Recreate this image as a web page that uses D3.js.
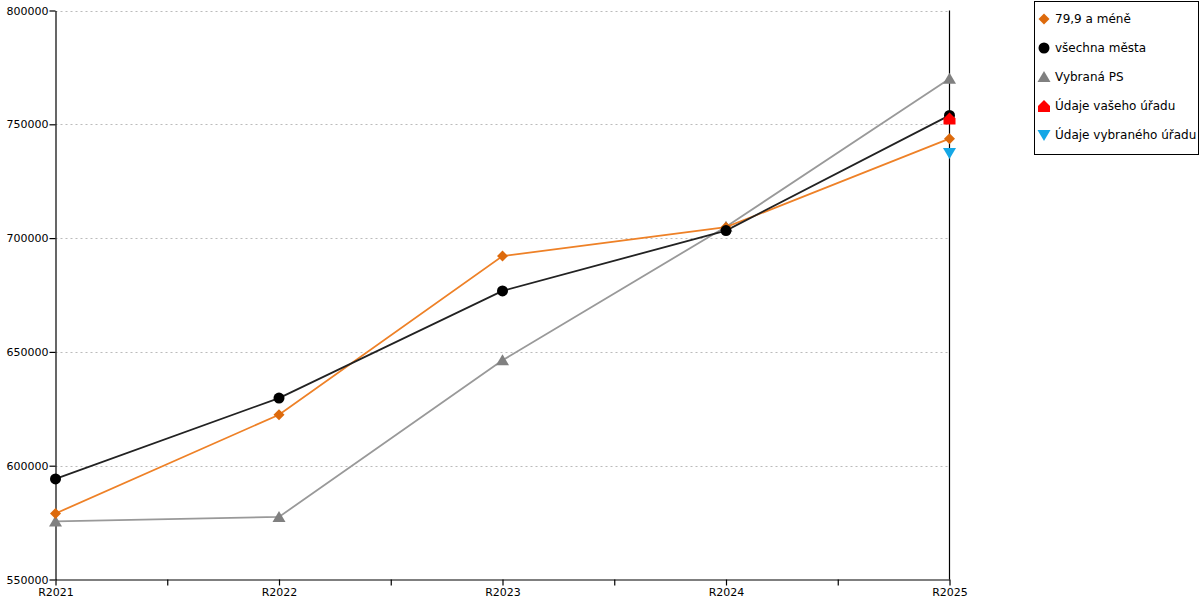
<!DOCTYPE html>
<html>
<head>
<meta charset="utf-8">
<script src="https://cdn.jsdelivr.net/npm/d3@7"></script>
<style>
  body { margin: 0; background: #fff; }
  svg { font-family: "DejaVu Sans", Verdana, sans-serif; }
</style>
</head>
<body>
<div id="chart"></div>
<script>
// Data
const years = ["R2021", "R2022", "R2023", "R2024", "R2025"];
const small = [579000, 622400, 692100, 704800, 743700];     // 79,9 a méně
const allCities = [594200, 629700, 676800, 703300, 753900]; // všechna města
const selectedPS = [575500, 577500, 646300, 705000, 770000]; // Vybraná PS
const yourOffice = [null, null, null, null, 752500];
const otherOffice = [null, null, null, null, 737400];
const yTicks = [550000, 600000, 650000, 700000, 750000, 800000];
const legendLabels = ["79,9 a méně", "všechna města", "Vybraná PS", "Údaje vašeho úřadu", "Údaje vybraného úřadu"];

const WIDTH = 1200, HEIGHT = 600;
const plotLeft = 55.5, plotRight = 949.5, plotTop = 10.5, plotBottom = 579.5;

const svg = d3.select("#chart").append("svg")
  .attr("width", WIDTH).attr("height", HEIGHT);

const x = d3.scaleLinear().domain([0, years.length - 1]).range([plotLeft, plotRight]);
const y = d3.scaleLinear().domain([550000, 800000]).range([plotBottom, plotTop]);

// Grid
svg.append("g").selectAll("line")
  .data(yTicks.slice(1))
  .join("line")
  .attr("x1", plotLeft).attr("x2", plotRight)
  .attr("y1", d => Math.round(y(d)) + 0.5).attr("y2", d => Math.round(y(d)) + 0.5)
  .attr("stroke", "#bbb")
  .attr("stroke-dasharray", "2,3");

// Axes
const yAxis = svg.append("g")
  .attr("transform", `translate(${plotLeft},0)`)
  .call(d3.axisLeft(y).tickValues(yTicks).tickSize(6).tickSizeOuter(0).tickFormat(d3.format("d")));

const xTickVals = d3.range(0, years.length - 0.5, 0.5);
const xAxis = svg.append("g")
  .attr("transform", `translate(0,${plotBottom})`)
  .call(d3.axisBottom(x).tickValues(xTickVals).tickSize(6).tickSizeOuter(0)
    .tickFormat(d => Number.isInteger(d) ? years[d] : ""));

[yAxis, xAxis].forEach(a => {
  a.selectAll("path.domain").attr("stroke", "#000").attr("stroke-width", 1.2);
  a.selectAll(".tick line").attr("stroke", "#000").attr("stroke-width", 1.2);
  a.selectAll("text").attr("font-family", "DejaVu Sans").attr("font-size", 11).attr("fill", "#000");
});
yAxis.selectAll("text").attr("x", -7);

// Right border line
svg.append("line")
  .attr("x1", plotRight).attr("x2", plotRight)
  .attr("y1", plotTop).attr("y2", plotBottom)
  .attr("stroke", "#000").attr("stroke-width", 1.2);

// Symbols
const diamond = "M0,-5.5L5.5,0L0,5.5L-5.5,0Z";
const circle = d3.symbol().type(d3.symbolCircle).size(95)();
const triUp = "M0,-6L6.5,5L-6.5,5Z";
const triDown = "M0,6L6.5,-5L-6.5,-5Z";
const house = "M0,-6L6,0L6,6L-6,6L-6,0Z";

const series = [
  { values: selectedPS, line: "#999999", marker: "#808080", shape: triUp },
  { values: small, line: "#ee8127", marker: "#dd6a0c", shape: diamond },
  { values: allCities, line: "#222222", marker: "#000000", shape: circle },
  { values: yourOffice, line: null, marker: "#ff0000", shape: house },
  { values: otherOffice, line: null, marker: "#14a7e6", shape: triDown }
];

const lineGen = d3.line()
  .defined(d => d != null)
  .x((d, i) => x(i))
  .y(d => y(d));

series.forEach(s => {
  if (s.line) {
    svg.append("path")
      .datum(s.values)
      .attr("fill", "none")
      .attr("stroke", s.line)
      .attr("stroke-width", 1.8)
      .attr("d", lineGen);
  }
});

series.forEach(s => {
  svg.append("g").selectAll("path")
    .data(s.values.map((v, i) => ({ v, i })).filter(d => d.v != null))
    .join("path")
    .attr("d", s.shape)
    .attr("fill", s.marker)
    .attr("transform", d => `translate(${x(d.i)},${y(d.v)})`);
});

// Legend
const legend = svg.append("g");
legend.append("rect")
  .attr("x", 1034.5).attr("y", 1.5)
  .attr("width", 164).attr("height", 153)
  .attr("fill", "#fff").attr("stroke", "#000");

const legendMarks = [
  { shape: diamond, color: "#dd6a0c" },
  { shape: circle, color: "#000000" },
  { shape: triUp, color: "#808080" },
  { shape: house, color: "#ff0000" },
  { shape: triDown, color: "#14a7e6" }
];

const item = legend.selectAll("g.item")
  .data(legendLabels)
  .join("g")
  .attr("class", "item")
  .attr("transform", (d, i) => `translate(1044,${19 + i * 29})`);

item.append("path")
  .attr("d", (d, i) => legendMarks[i].shape)
  .attr("fill", (d, i) => legendMarks[i].color);

item.append("text")
  .attr("x", 11)
  .attr("dy", "0.35em")
  .attr("font-size", 12)
  .attr("fill", "#000")
  .text(d => d);
</script>
</body>
</html>
